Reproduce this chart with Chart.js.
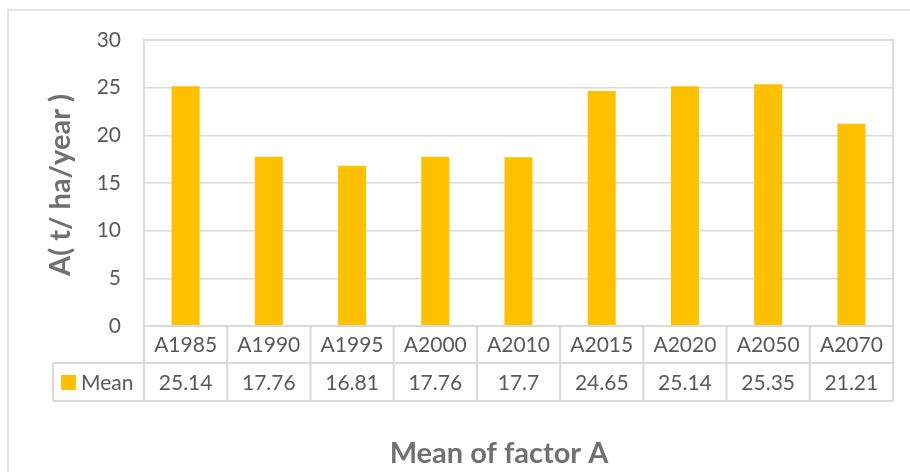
<!DOCTYPE html>
<html>
<head>
<meta charset="utf-8">
<script src="https://cdn.jsdelivr.net/npm/chart.js@4/dist/chart.umd.min.js"></script>
<style>
  html, body { margin: 0; padding: 0; background: #fff; }
  #wrap { position: relative; width: 910px; height: 472px; }
</style>
</head>
<body>
<div id="wrap"><canvas id="meanChart" width="910" height="472"></canvas></div>
<script>
// data
const categories = ['A1985', 'A1990', 'A1995', 'A2000', 'A2010', 'A2015', 'A2020', 'A2050', 'A2070'];
const meanValues = [25.14, 17.76, 16.81, 17.76, 17.7, 24.65, 25.14, 25.35, 21.21];
const seriesName = 'Mean';
const yTitle = 'A( t/ ha/year )';
const xTitle = 'Mean of factor A';

const FONT = 'Lato, "Liberation Sans", sans-serif';
const TEXT = '#595959';
const TITLE = '#707070';
const LINE = '#d9d9d9';
const BAR = '#ffc000';

// draws outer frame, plot border, data table and axis titles
const tablePlugin = {
    id: 'dataTable',
    afterDraw(chart) {
        const ctx = chart.ctx;
        const area = chart.chartArea;
        const x = chart.scales.x;
        const colW = (area.right - area.left) / categories.length;
        const row1Bottom = area.bottom + 37;
        const row2Bottom = row1Bottom + 38;
        const legendLeft = 53;

        ctx.save();

        // outer chart frame
        ctx.strokeStyle = LINE;
        ctx.lineWidth = 1.5;
        ctx.beginPath();
        ctx.moveTo(8, 472);
        ctx.lineTo(8, 10);
        ctx.lineTo(910, 10);
        ctx.stroke();

        // plot area top / right border
        ctx.strokeStyle = '#d9dce6';
        ctx.lineWidth = 2;
        ctx.beginPath();
        ctx.moveTo(area.left, area.top);
        ctx.lineTo(area.right, area.top);
        ctx.lineTo(area.right, area.bottom);
        ctx.stroke();

        // table grid
        ctx.strokeStyle = LINE;
        ctx.lineWidth = 2;
        ctx.beginPath();
        for (let i = 0; i <= categories.length; i++) {
            const px = area.left + i * colW;
            ctx.moveTo(px, area.bottom);
            ctx.lineTo(px, row2Bottom);
        }
        ctx.moveTo(legendLeft, row1Bottom);
        ctx.lineTo(area.right, row1Bottom);
        ctx.moveTo(legendLeft, row2Bottom);
        ctx.lineTo(area.right, row2Bottom);
        ctx.moveTo(legendLeft, row1Bottom);
        ctx.lineTo(legendLeft, row2Bottom);
        ctx.moveTo(area.left, area.bottom);
        ctx.lineTo(area.right, area.bottom);
        ctx.stroke();

        // table text
        ctx.fillStyle = TEXT;
        ctx.font = '21px ' + FONT;
        ctx.textAlign = 'center';
        ctx.textBaseline = 'middle';
        categories.forEach((c, i) => {
            const cx = x.getPixelForValue(i);
            ctx.fillText(c, cx, (area.bottom + row1Bottom) / 2 + 1);
            ctx.fillText(String(meanValues[i]), cx, (row1Bottom + row2Bottom) / 2 + 1);
        });

        // legend key
        ctx.fillStyle = BAR;
        ctx.fillRect(61, 375, 15, 15);
        ctx.fillStyle = TEXT;
        ctx.textAlign = 'left';
        ctx.fillText(seriesName, 81, (row1Bottom + row2Bottom) / 2 + 1);

        // axis titles
        ctx.fillStyle = TITLE;
        ctx.font = 'bold 29px ' + FONT;
        ctx.textAlign = 'center';
        ctx.textBaseline = 'alphabetic';
        ctx.fillText(xTitle, 499, 463);

        ctx.translate(70, 185);
        ctx.rotate(-Math.PI / 2);
        ctx.fillText(yTitle, 0, 0);

        ctx.restore();
    }
};

new Chart(document.getElementById('meanChart'), {
    type: 'bar',
    data: {
        labels: categories,
        datasets: [{
            label: seriesName,
            data: meanValues,
            backgroundColor: BAR,
            borderWidth: 0,
            categoryPercentage: 1,
            barPercentage: 0.337
        }]
    },
    options: {
        responsive: false,
        animation: false,
        layout: {
            padding: { top: 40, right: 17, bottom: 146, left: 0 }
        },
        plugins: {
            legend: { display: false },
            tooltip: { enabled: false }
        },
        scales: {
            x: {
                ticks: { display: false },
                grid: { display: false },
                border: { display: false },
                afterFit(scale) { scale.height = 0; }
            },
            y: {
                min: 0,
                max: 30,
                ticks: {
                    stepSize: 5,
                    padding: 23,
                    color: TEXT,
                    font: { family: FONT, size: 21 }
                },
                grid: {
                    color: LINE,
                    lineWidth: 1.5,
                    drawTicks: false
                },
                border: { display: true, color: '#d9dce6', width: 2 },
                afterFit(scale) { scale.width = 144; }
            }
        }
    },
    plugins: [tablePlugin]
});
</script>
</body>
</html>
